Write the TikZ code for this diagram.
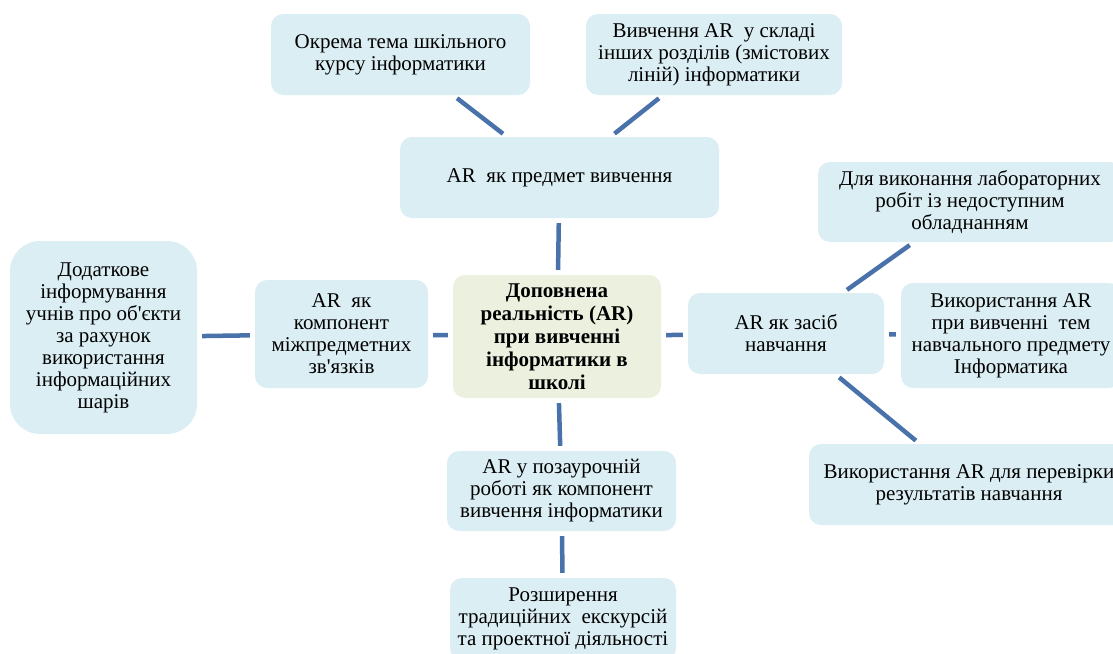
\documentclass[tikz,border=0pt]{standalone}
\usepackage{fontspec}
\setmainfont{Liberation Serif}
\definecolor{boxblue}{HTML}{DBEEF4}
\definecolor{boxgreen}{HTML}{EBF1DE}
\definecolor{linkblue}{HTML}{4A72AA}
\begin{document}
\begin{tikzpicture}[x=1pt,y=-1pt,
  box/.style={fill=boxblue, rounded corners=12pt, inner sep=0pt, align=center,
    font=\fontsize{21}{22}\selectfont},
  link/.style={draw=linkblue, line width=4.5pt, shorten <=5pt, shorten >=5pt}]
\useasboundingbox (0,0) rectangle (1113,653);
\node[box, minimum width=259pt, minimum height=81pt] (t1) at (400.5,54.5) {Окрема тема шкільного\\курсу інформатики};
\node[box, minimum width=256pt, minimum height=81pt] (t2) at (714,54.5) {Вивчення AR\ \ у складі\\інших розділів (змістових\\ліній) інформатики};
\node[box, minimum width=319pt, minimum height=81pt] (subj) at (559.5,177.5) {AR\ \ як предмет вивчення};
\node[box, fill=boxgreen, minimum width=208pt, minimum height=123pt, font=\fontsize{21}{23}\selectfont\bfseries] (c) at (557,336.5) {Доповнена\\реальність (AR)\\при вивченні\\інформатики в\\школі};
\node[box, rounded corners=30pt, minimum width=187pt, minimum height=193pt] (l1) at (103.5,337.5) {Додаткове\\інформування\\учнів про об\textquotesingle єкти\\за рахунок\\використання\\інформаційних\\шарів};
\node[box, minimum width=173pt, minimum height=108pt] (l2) at (341.5,334) {AR\ \ як\\компонент\\міжпредметних\\зв\textquotesingle язків};
\node[box, minimum width=196pt, minimum height=81pt] (r) at (786,333.5) {AR як засіб\\навчання};
\node[box, minimum width=304pt, minimum height=80pt] (r1) at (970,202) {Для виконання лабораторних\\робіт із недоступним\\обладнанням};
\node[box, minimum width=220pt, minimum height=105pt] (r2) at (1011,335.5) {Використання AR\\при вивченні\ \ тем\\навчального предмету\\Інформатика};
\node[box, minimum width=320pt, minimum height=81pt] (r3) at (969,484.5) {Використання AR для перевірки\\результатів навчання};
\node[box, minimum width=229pt, minimum height=80pt] (b1) at (561.5,491) {AR у позаурочній\\роботі як компонент\\вивчення інформатики};
\node[box, minimum width=226pt, minimum height=82pt] (b2) at (563,619) {Розширення\\традиційних\ \ екскурсій\\та проектної діяльності};
\draw[link] (t1) -- (subj);
\draw[link] (t2) -- (subj);
\draw[link] (subj) -- (c);
\draw[link] (l1) -- (l2);
\draw[link] (l2) -- (c);
\draw[link] (c) -- (r);
\draw[link] (r) -- (r1);
\draw[link] (r) -- (r2);
\draw[link] (r) -- (r3);
\draw[link] (c) -- (b1);
\draw[link] (b1) -- (b2);
\end{tikzpicture}
\end{document}
